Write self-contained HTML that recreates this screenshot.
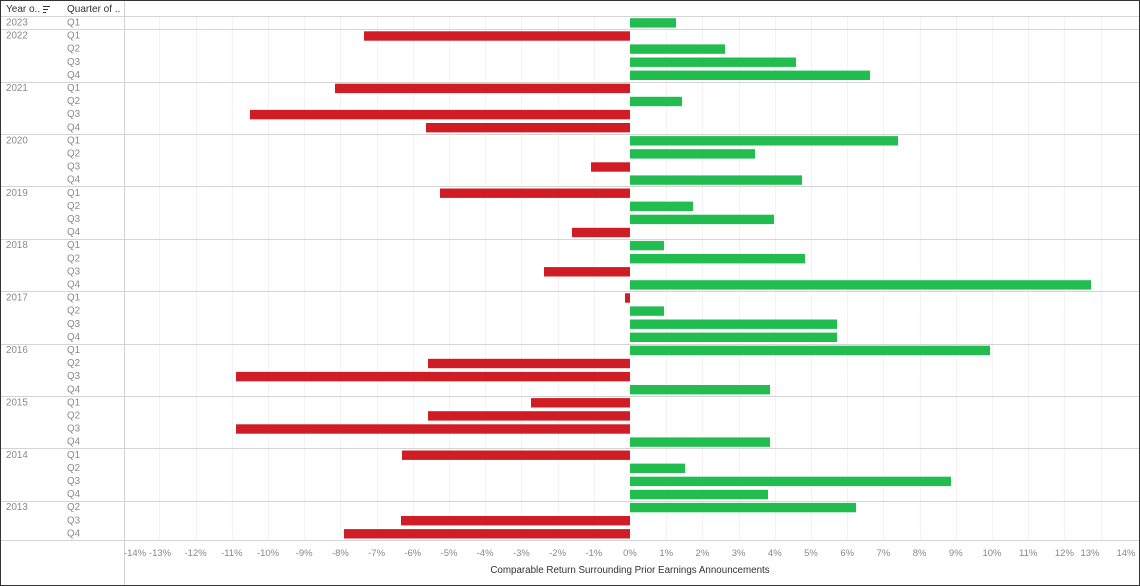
<!DOCTYPE html>
<html><head><meta charset="utf-8"><style>
html,body{margin:0;padding:0;background:#fff;}
svg{display:block;font-family:"Liberation Sans",sans-serif;}
</style></head><body>
<svg width="1140" height="586" viewBox="0 0 1140 586" xmlns="http://www.w3.org/2000/svg">
<rect x="0.5" y="0.5" width="1139" height="585" fill="#fff" stroke="#333"/>
<g id="grid" stroke="#f8f0f2" stroke-width="1"></g>
<g id="lines"></g>
<g id="bars"></g>
<g id="labels" font-size="9.8" fill="#8a8a8a"></g>
<line x1="124.5" y1="1" x2="124.5" y2="585" stroke="#d4d4d4"/>
<line x1="1" y1="16.5" x2="1139" y2="16.5" stroke="#d4d4d4"/>
<line x1="1" y1="540.5" x2="1139" y2="540.5" stroke="#d4d4d4"/>
<text x="6" y="12" font-size="10" fill="#333">Year o..</text>
<g stroke="#333" stroke-width="1"><line x1="43" y1="6.5" x2="50" y2="6.5"/><line x1="43" y1="9.5" x2="48" y2="9.5"/><line x1="43" y1="12.5" x2="46" y2="12.5"/></g>
<text x="67" y="12" font-size="10" fill="#333">Quarter of ..</text>
<g id="ticks" font-size="9.5" fill="#888" text-anchor="middle"></g>
<text x="630" y="573" font-size="9.8" fill="#333" text-anchor="middle">Comparable Return Surrounding Prior Earnings Announcements</text>
<script>
var ns="http://www.w3.org/2000/svg";
function el(p,t,a,txt){var e=document.createElementNS(ns,t);for(var k in a)e.setAttribute(k,a[k]);if(txt)e.textContent=txt;document.getElementById(p).appendChild(e);}
var z=630,u=36.2;
for(var i=-13;i<=13;i++){if(i==0)continue;var x=Math.round(z+i*u)+0.5;el("grid","line",{x1:x,y1:17,x2:x,y2:540});}
for(var i=-14;i<=14;i++){var x=z+i*u;if(i==-14)x=135;if(i==-13)x=160;if(i==13)x=1090;if(i==14)x=1126;el("ticks","text",{x:x,y:556},(i)+"%");}
var data=[
["2023",[["Q1",676]]],
["2022",[["Q1",364],["Q2",725],["Q3",796],["Q4",870]]],
["2021",[["Q1",335],["Q2",682],["Q3",250],["Q4",426]]],
["2020",[["Q1",898],["Q2",755],["Q3",591],["Q4",802]]],
["2019",[["Q1",440],["Q2",693],["Q3",774],["Q4",572]]],
["2018",[["Q1",664],["Q2",805],["Q3",544],["Q4",1091]]],
["2017",[["Q1",625],["Q2",664],["Q3",837],["Q4",837]]],
["2016",[["Q1",990],["Q2",428],["Q3",236],["Q4",770]]],
["2015",[["Q1",531],["Q2",428],["Q3",236],["Q4",770]]],
["2014",[["Q1",402],["Q2",685],["Q3",951],["Q4",768]]],
["2013",[["Q2",856],["Q3",401],["Q4",344]]]];
var r=0,p=13.1,t0=16;
data.forEach(function(y,yi){
 var top=t0+r*p;
 if(yi>0)el("lines","line",{x1:1,y1:Math.round(top)+0.5,x2:1139,y2:Math.round(top)+0.5,stroke:"#d4d4d4"});
 el("labels","text",{x:6,y:top+9.5},y[0]);
 y[1].forEach(function(q){
  var rt=t0+r*p;
  el("labels","text",{x:67,y:rt+9.5},q[0]);
  var v=q[1];
  el("bars","rect",{x:Math.min(v,z),y:rt+2.2,width:Math.abs(v-z),height:9.4,fill:v>z?"#21bd4e":"#d01c24"});
  r++;
 });
});
</script>
</svg>
</body></html>
